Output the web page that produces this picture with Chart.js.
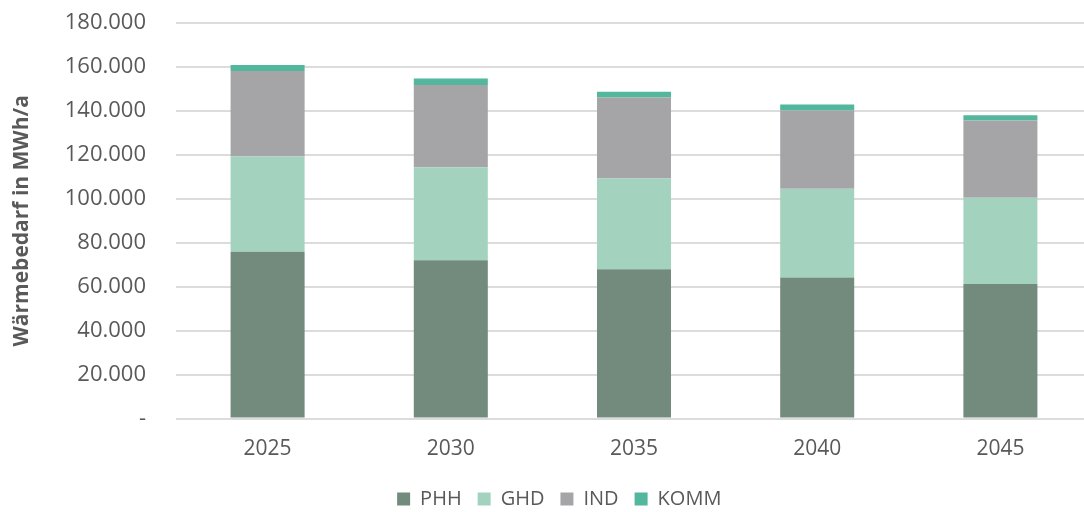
<!DOCTYPE html>
<html lang="de">
<head>
<meta charset="utf-8">
<title>Wärmebedarf</title>
<script src="https://cdn.jsdelivr.net/npm/chart.js@4.4.1/dist/chart.umd.min.js"></script>
<style>
  html, body { margin: 0; padding: 0; background: #ffffff; overflow: hidden; }
  #wrap { position: relative; width: 1092px; height: 512px; }
</style>
</head>
<body>
<div id="wrap"><canvas id="chart"></canvas></div>
<script>
// Heat demand by sector (MWh/a)
const years = ['2025', '2030', '2035', '2040', '2045'];
const phh  = [75900, 72000, 68000, 64200, 61300];
const ghd  = [43400, 42400, 41300, 40400, 39200];
const ind  = [38900, 37400, 36800, 35600, 35100];
const komm = [2700, 3000, 2600, 2700, 2400];

const FONT = 'Open Sans';
const TEXT = '#595959';

function fmt(v) {
  if (v === 0) return '-';
  return v.toString().replace(/\B(?=(\d{3})+(?!\d))/g, '.');
}

function ds(label, data, color) {
  return {
    label: label,
    data: data,
    backgroundColor: color,
    borderWidth: 0,
    categoryPercentage: 1,
    barPercentage: 0.404
  };
}

new Chart(document.getElementById('chart'), {
  type: 'bar',
  data: {
    labels: years,
    datasets: [
      ds('PHH', phh, '#738B7C'),
      ds('GHD', ghd, '#A3D3BF'),
      ds('IND', ind, '#A5A5A7'),
      ds('KOMM', komm, '#52B79D')
    ]
  },
  options: {
    responsive: true,
    maintainAspectRatio: false,
    animation: false,
    layout: { padding: { top: 23, right: 0, bottom: -7, left: 26.5 } },
    plugins: {
      tooltip: { enabled: false },
      legend: {
        position: 'bottom',
        labels: {
          color: TEXT,
          font: { family: FONT, size: 20 },
          boxWidth: 13,
          boxHeight: 13,
          padding: 16
        }
      }
    },
    scales: {
      x: {
        stacked: true,
        grid: { display: false },
        border: { display: false },
        ticks: { color: TEXT, font: { family: FONT, size: 21 }, padding: 10 },
        afterFit: function (s) { s.height = 54.4; }
      },
      y: {
        stacked: true,
        min: 0,
        max: 180000,
        grid: {
          color: '#DCDCDC',
          lineWidth: 2,
          drawTicks: true,
          tickLength: 30,
          tickColor: 'rgba(0,0,0,0)'
        },
        border: { display: false },
        ticks: {
          stepSize: 20000,
          color: TEXT,
          font: { family: FONT, size: 22 },
          padding: 0,
          callback: function (v) { return fmt(v); }
        },
        title: {
          display: true,
          text: 'Wärmebedarf in MWh/a',
          color: TEXT,
          font: { family: FONT, size: 21, weight: 'bold' },
          padding: { top: -17, bottom: 0 }
        },
        afterFit: function (s) { s.width = 149.5; }
      }
    }
  }
});
</script>
</body>
</html>
